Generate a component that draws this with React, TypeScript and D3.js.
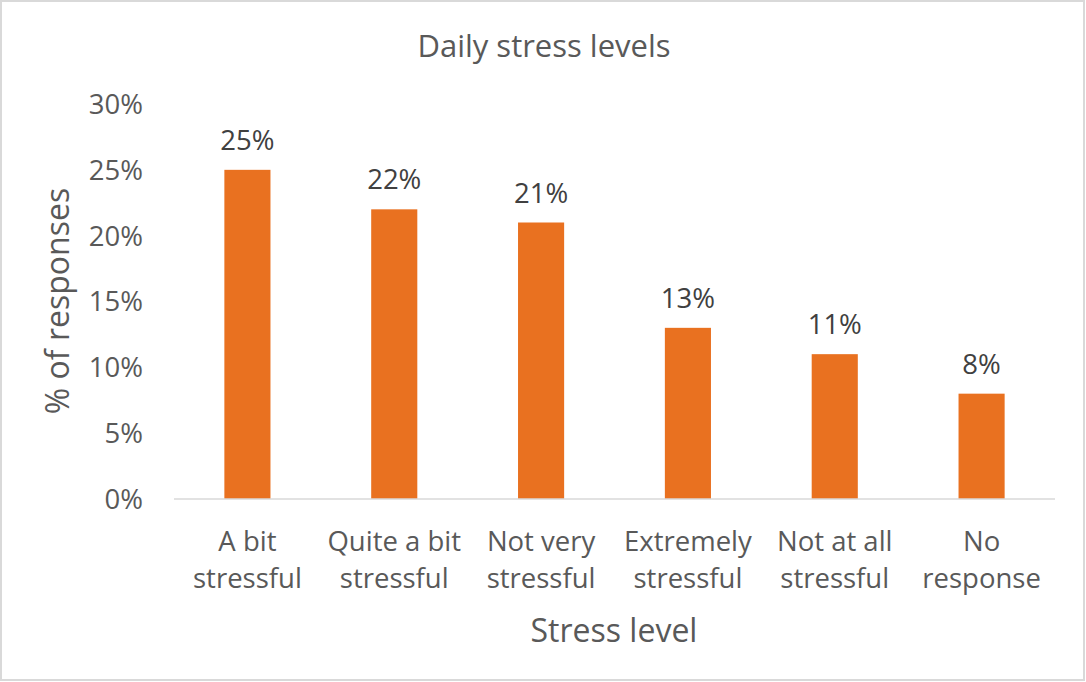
import * as d3 from "d3"

const categories = [
  ["A bit", "stressful"],
  ["Quite a bit", "stressful"],
  ["Not very", "stressful"],
  ["Extremely", "stressful"],
  ["Not at all", "stressful"],
  ["No", "response"],
]
const values = [25, 22, 21, 13, 11, 8]
const yTicks = [0, 5, 10, 15, 20, 25, 30]

const WIDTH = 1086
const HEIGHT = 682
const MARGIN = { left: 174, top: 104, right: 31, bottom: 183 }
const FONT = "'Open Sans', 'Noto Sans', sans-serif"

export default function App() {
  const boundsW = WIDTH - MARGIN.left - MARGIN.right
  const boundsH = HEIGHT - MARGIN.top - MARGIN.bottom
  const keys = categories.map((c) => c.join(" "))
  const x = d3.scaleBand().domain(keys).range([0, boundsW]).paddingInner(0.686).paddingOuter(0.343)
  const y = d3.scaleLinear().domain([0, 30]).range([boundsH, 0])

  return (
    <svg
      width={WIDTH}
      height={HEIGHT}
      style={{ position: "absolute", left: 0, top: 0, background: "#fff" }}
      fontFamily={FONT}
    >
      <rect x={1} y={1} width={WIDTH - 3} height={HEIGHT - 3} fill="#fff" stroke="#d9d9d9" strokeWidth={2} />
      <text x={544} y={57} textAnchor="middle" fontSize={31} fill="#595959">
        Daily stress levels
      </text>
      <g transform={`translate(${MARGIN.left},${MARGIN.top})`}>
        {yTicks.map((t) => (
          <text key={t} x={-31} y={y(t)} dy="0.36em" textAnchor="end" fontSize={27.5} fill="#595959">
            {t}%
          </text>
        ))}
        {values.map((v, i) => (
          <g key={keys[i]}>
            <rect x={x(keys[i])} y={y(v)} width={x.bandwidth()} height={boundsH - y(v)} fill="#e97120" />
            <text
              x={(x(keys[i]) ?? 0) + x.bandwidth() / 2}
              y={y(v) - 20}
              textAnchor="middle"
              fontSize={27.5}
              fill="#404040"
            >
              {v}%
            </text>
          </g>
        ))}
        <line x1={0} x2={boundsW} y1={boundsH} y2={boundsH} stroke="#d9d9d9" strokeWidth={1.5} />
        {categories.map((c, i) => (
          <text
            key={keys[i]}
            x={(x(keys[i]) ?? 0) + x.bandwidth() / 2}
            y={boundsH + 52}
            textAnchor="middle"
            fontSize={27.5}
            fill="#595959"
          >
            {c.map((line, j) => (
              <tspan key={j} x={(x(keys[i]) ?? 0) + x.bandwidth() / 2} dy={j === 0 ? 0 : 37}>
                {line}
              </tspan>
            ))}
          </text>
        ))}
      </g>
      <text x={614} y={642} textAnchor="middle" fontSize={32} fill="#595959">
        Stress level
      </text>
      <text
        transform={`translate(69,301) rotate(-90)`}
        textAnchor="middle"
        fontSize={32}
        fill="#595959"
      >
        % of responses
      </text>
    </svg>
  )
}
